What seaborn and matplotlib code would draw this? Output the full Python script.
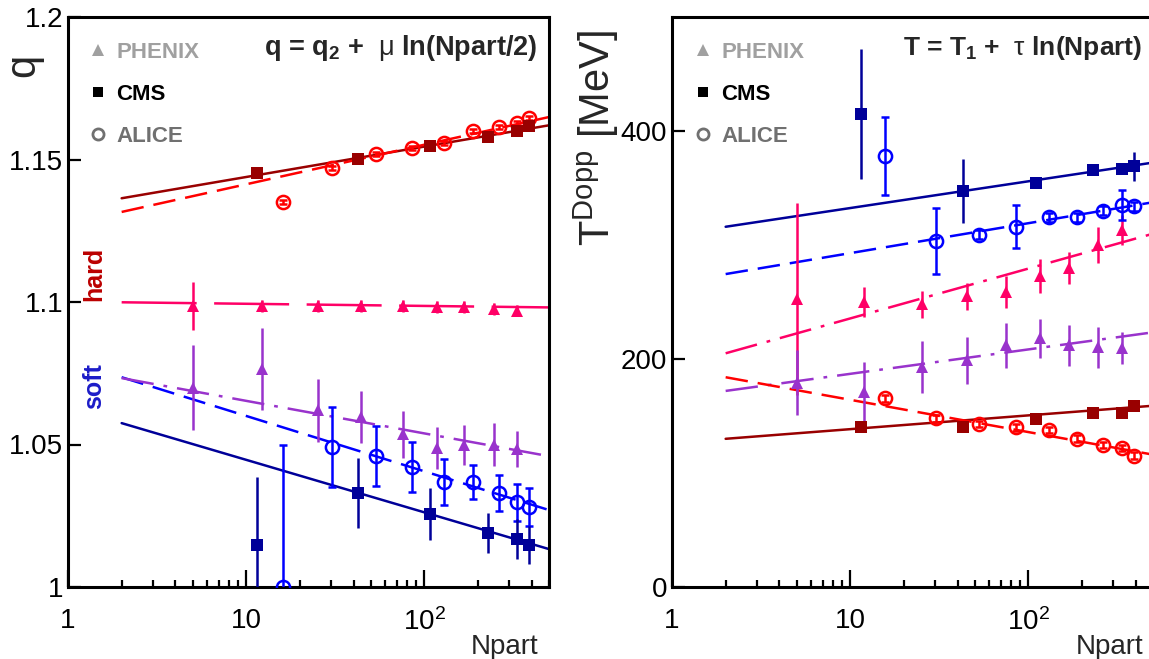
import numpy as np
import matplotlib
matplotlib.use("Agg")
import matplotlib.pyplot as plt
from matplotlib.lines import Line2D
from matplotlib.ticker import FixedLocator, LogLocator, NullFormatter
import seaborn as sns

# ---------------- data ----------------
# left panel: q vs Npart
q_cms_npart = [11.5, 42.6, 108, 226, 332, 385]
q_cms_hard = [1.1453, 1.1502, 1.1547, 1.1579, 1.1600, 1.1617]
q_cms_hard_err = [0, 0, 0, 0, 0, 0]
q_cms_soft = [1.0147, 1.0329, 1.0256, 1.0189, 1.0168, 1.0147]
q_cms_soft_err = [0.024, 0.0123, 0.009, 0.007, 0.007, 0.0068]

q_alice_npart = [16.1, 30.4, 53.7, 85.7, 129, 188, 261, 332, 385]
q_alice_hard = [1.1350, 1.1470, 1.1519, 1.1540, 1.1558, 1.1600, 1.1614, 1.1628, 1.1645]
q_alice_hard_err = [0.0007] * 9
q_alice_soft = [1.0000, 1.0490, 1.0459, 1.0420, 1.0368, 1.0368, 1.0329, 1.0297, 1.0280]
q_alice_soft_err = [0.050, 0.014, 0.0105, 0.0088, 0.008, 0.006, 0.0063, 0.0065, 0.0066]

q_phenix_npart = [5.0, 12.3, 25.4, 44.3, 76.3, 117, 166, 247, 332]
q_phenix_hard = [1.0986, 1.0986, 1.0986, 1.0986, 1.0986, 1.0982, 1.0982, 1.0976, 1.0970]
q_phenix_hard_err = [0.0084, 0.002, 0.002, 0.002, 0.002, 0.002, 0.002, 0.002, 0.002]
q_phenix_soft = [1.0700, 1.0765, 1.0620, 1.0596, 1.0536, 1.0487, 1.0498, 1.0500, 1.0484]
q_phenix_soft_err = [0.015, 0.0144, 0.011, 0.009, 0.0083, 0.0074, 0.007, 0.0074, 0.0062]

# right panel: T^Dopp vs Npart
t_cms_npart = [11.5, 43, 110, 229, 333, 389]
t_cms_soft = [415, 347, 354, 366, 366.6, 369]
t_cms_soft_err = [57, 28, 3, 3, 3, 13]
t_cms_hard = [140, 140, 147, 152.6, 152.6, 158.7]
t_cms_hard_err = [0, 0, 0, 0, 0, 0]

t_alice_npart = [15.7, 30.4, 53, 85.7, 131, 188, 262, 333, 389]
t_alice_soft = [378, 303.5, 309, 316, 324.5, 324.5, 330, 335, 334]
t_alice_soft_err = [34, 29, 4, 19, 4, 4, 4, 13, 4]
t_alice_hard = [165.7, 148, 143, 140, 137.7, 130, 124.5, 122, 115]
t_alice_hard_err = [3] * 9

t_phenix_npart = [5.04, 12, 25.4, 45, 75, 116, 168, 246, 337]
t_phenix_hard = [252.6, 250, 248, 255, 259, 273, 280, 300, 313]
t_phenix_hard_err = [84, 13, 12, 12, 14, 15, 14, 16, 13]
t_phenix_soft = [179, 171, 193, 199, 212, 218, 212, 210.5, 209.6]
t_phenix_soft_err = [28.5, 26, 23, 20.5, 19.5, 17.5, 18, 18, 14]

# fitted lines, value at Npart = 2 and Npart = 500
fit_npart = [2, 500]
q_fit_cms_hard = [1.1364, 1.1620]
q_fit_alice_hard = [1.1316, 1.1649]
q_fit_phenix_hard = [1.0999, 1.0981]
q_fit_cms_soft = [1.0575, 1.0133]
q_fit_alice_soft = [1.0736, 1.0270]
q_fit_phenix_soft = [1.0733, 1.0459]

t_fit_cms_soft = [316, 372.3]
t_fit_alice_soft = [274.5, 337.5]
t_fit_phenix_hard = [205, 309.9]
t_fit_phenix_soft = [172, 223.4]
t_fit_cms_hard = [130, 159]
t_fit_alice_hard = [184, 116.1]

xtick_vals = [1, 10, 100]
xtick_labels = ["1", "10", r"$\mathregular{10^2}$"]
q_ytick_vals = [1.0, 1.05, 1.1, 1.15, 1.2]
q_ytick_labels = ["1", "1.05", "1.1", "1.15", "1.2"]
t_ytick_vals = [0, 200, 400]
t_ytick_labels = ["0", "200", "400"]
legend_labels = ["PHENIX", "CMS", "ALICE"]

# ---------------- style ----------------
sns.set_theme(style="ticks")
plt.rcParams["font.family"] = ["Liberation Sans", "DejaVu Sans"]
plt.rcParams["mathtext.fontset"] = "custom"
plt.rcParams["mathtext.rm"] = "Liberation Sans"
plt.rcParams["mathtext.it"] = "Liberation Sans:italic"
plt.rcParams["mathtext.bf"] = "Liberation Sans:bold"

C_CMS_HARD = "#990000"
C_ALICE_HARD = "#ff0000"
C_PHENIX_HARD = "#ff0066"
C_CMS_SOFT = "#000099"
C_ALICE_SOFT = "#0000ff"
C_PHENIX_SOFT = "#9933cc"

LW = 1.8
SOLID = "-"
DASHED = (0, (9, 4))
DASHDOT = (0, (13, 4, 1.5, 4))
LONGDASH = (0, (30, 7))


def draw_fit(ax, vals, color, ls):
    sns.lineplot(x=fit_npart, y=vals, ax=ax, color=color, linewidth=LW,
                 linestyle=ls, legend=False, zorder=2)


def draw_points(ax, x, y, err, color, marker):
    if marker == "o":
        style = dict(marker="o", ms=9.5, mfc="none", mec=color, mew=1.8)
    elif marker == "s":
        style = dict(marker="s", ms=8, mfc=color, mec=color, mew=0)
    else:
        style = dict(marker="^", ms=9, mfc=color, mec=color, mew=0)
    ax.errorbar(x, y, yerr=err, ls="none", color=color, elinewidth=LW,
                capsize=2.6, capthick=LW, zorder=3, **style)


def style_axes(ax, ylim, yvals, ylabels):
    ax.set_xscale("log")
    ax.set_xlim(1, 500)
    ax.set_ylim(*ylim)
    ax.xaxis.set_major_locator(FixedLocator(xtick_vals))
    ax.set_xticklabels(xtick_labels)
    ax.xaxis.set_minor_locator(LogLocator(base=10, subs=np.arange(2, 10), numticks=12))
    ax.xaxis.set_minor_formatter(NullFormatter())
    ax.set_yticks(yvals)
    ax.set_yticklabels(ylabels)
    ax.yaxis.set_minor_locator(FixedLocator([]))
    ax.tick_params(axis="both", which="both", direction="in", top=False, right=False,
                   width=1.6, color="black", labelsize=20, labelcolor="black")
    ax.tick_params(axis="x", which="major", length=12, pad=15)
    ax.tick_params(axis="x", which="minor", length=5)
    ax.tick_params(axis="y", which="major", length=9.5, pad=3.5)
    for sp in ax.spines.values():
        sp.set_linewidth(2.2)
        sp.set_color("black")
        sp.set_visible(True)
    ax.grid(False)


def add_legend(ax, x0):
    handles = [
        Line2D([], [], ls="none", marker="^", ms=8.5, color="#a0a0a0", mew=0),
        Line2D([], [], ls="none", marker="s", ms=7.5, color="black", mew=0),
        Line2D([], [], ls="none", marker="o", ms=8, mfc="none", mec="#707070", mew=2),
    ]
    ax.legend(handles, legend_labels, loc="upper left", bbox_to_anchor=(x0, 0.957),
              frameon=False, borderpad=0, borderaxespad=0, handlelength=0.7,
              handletextpad=0.45, labelspacing=0.95,
              labelcolor=["#a0a0a0", "black", "#707070"],
              prop={"weight": "bold", "size": 16})


fig = plt.figure(figsize=(11.49, 6.59), dpi=100)
ax1 = fig.add_axes([68 / 1149, 1 - 587 / 659, 481 / 1149, 570 / 659])
ax2 = fig.add_axes([672 / 1149, 1 - 587 / 659, 481 / 1149, 570 / 659])

# ---------------- left panel ----------------
draw_fit(ax1, q_fit_cms_hard, C_CMS_HARD, SOLID)
draw_fit(ax1, q_fit_alice_hard, C_ALICE_HARD, DASHED)
draw_fit(ax1, q_fit_phenix_hard, C_PHENIX_HARD, LONGDASH)
draw_fit(ax1, q_fit_cms_soft, C_CMS_SOFT, SOLID)
draw_fit(ax1, q_fit_alice_soft, C_ALICE_SOFT, DASHED)
draw_fit(ax1, q_fit_phenix_soft, C_PHENIX_SOFT, DASHDOT)

draw_points(ax1, q_phenix_npart, q_phenix_hard, q_phenix_hard_err, C_PHENIX_HARD, "^")
draw_points(ax1, q_phenix_npart, q_phenix_soft, q_phenix_soft_err, C_PHENIX_SOFT, "^")
draw_points(ax1, q_alice_npart, q_alice_hard, q_alice_hard_err, C_ALICE_HARD, "o")
draw_points(ax1, q_alice_npart, q_alice_soft, q_alice_soft_err, C_ALICE_SOFT, "o")
draw_points(ax1, q_cms_npart, q_cms_hard, q_cms_hard_err, C_CMS_HARD, "s")
draw_points(ax1, q_cms_npart, q_cms_soft, q_cms_soft_err, C_CMS_SOFT, "s")

style_axes(ax1, (1.0, 1.2), q_ytick_vals, q_ytick_labels)
ax1.set_xlabel("Npart", loc="right", fontsize=20)
ax1.xaxis.set_label_coords(0.977, -0.082)
ax1.set_ylabel("q", loc="top", fontsize=30)
ax1.yaxis.set_label_coords(-0.052, 0.935)
add_legend(ax1, 0.047)
ax1.text(0.975, 0.946, r"q = q$_\mathbf{2}$ +  $\mathrm{\mu}$ ln(Npart/2)",
         transform=ax1.transAxes, ha="right", va="center", fontsize=19.5, fontweight="bold")
ax1.text(0.054, 0.549, "hard", transform=ax1.transAxes, rotation=90, ha="center",
         va="center", fontsize=18, fontweight="bold", color="#bb0000")
ax1.text(0.054, 0.353, "soft", transform=ax1.transAxes, rotation=90, ha="center",
         va="center", fontsize=18, fontweight="bold", color="#1c1cc8")

# ---------------- right panel ----------------
draw_fit(ax2, t_fit_cms_soft, C_CMS_SOFT, SOLID)
draw_fit(ax2, t_fit_alice_soft, C_ALICE_SOFT, DASHED)
draw_fit(ax2, t_fit_phenix_hard, C_PHENIX_HARD, DASHDOT)
draw_fit(ax2, t_fit_phenix_soft, C_PHENIX_SOFT, DASHDOT)
draw_fit(ax2, t_fit_cms_hard, C_CMS_HARD, SOLID)
draw_fit(ax2, t_fit_alice_hard, C_ALICE_HARD, DASHED)

draw_points(ax2, t_phenix_npart, t_phenix_hard, t_phenix_hard_err, C_PHENIX_HARD, "^")
draw_points(ax2, t_phenix_npart, t_phenix_soft, t_phenix_soft_err, C_PHENIX_SOFT, "^")
draw_points(ax2, t_alice_npart, t_alice_soft, t_alice_soft_err, C_ALICE_SOFT, "o")
draw_points(ax2, t_alice_npart, t_alice_hard, t_alice_hard_err, C_ALICE_HARD, "o")
draw_points(ax2, t_cms_npart, t_cms_soft, t_cms_soft_err, C_CMS_SOFT, "s")
draw_points(ax2, t_cms_npart, t_cms_hard, t_cms_hard_err, C_CMS_HARD, "s")

style_axes(ax2, (0, 500), t_ytick_vals, t_ytick_labels)
ax2.set_xlabel("Npart", loc="right", fontsize=20)
ax2.xaxis.set_label_coords(0.979, -0.082)
ax2.set_ylabel(r"T$^{\mathrm{Dopp}}$ [MeV]", loc="top", fontsize=30)
ax2.yaxis.set_label_coords(-0.105, 0.977)
add_legend(ax2, 0.049)
ax2.text(0.977, 0.946, r"T = T$_\mathbf{1}$ +  $\mathrm{\tau}$ ln(Npart)",
         transform=ax2.transAxes, ha="right", va="center", fontsize=19, fontweight="bold")

fig.savefig("out.png", dpi=100)
